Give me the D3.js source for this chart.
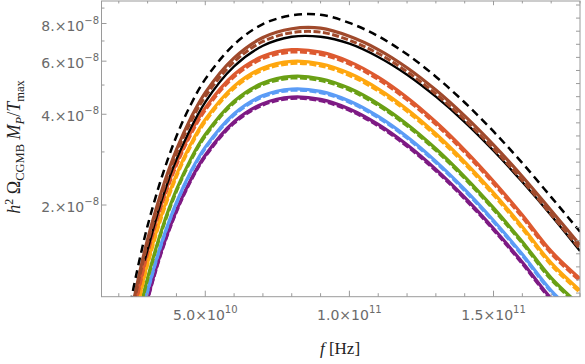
<!DOCTYPE html>
<html><head><meta charset="utf-8">
<script src="https://cdn.jsdelivr.net/npm/d3@7"></script>
<style>body{margin:0;background:#fff}</style>
</head><body><svg id="c" width="585" height="364"></svg>
<script>
// frequencies (Hz)
const freq = [2.4e10, 2.6e10, 2.8e10, 3.0e10, 3.5e10, 4.0e10, 4.5e10, 5.0e10, 6.0e10, 7.0e10, 8.0e10, 9.0e10, 1.0e11, 1.1e11, 1.2e11, 1.3e11, 1.4e11, 1.5e11, 1.6e11, 1.7e11, 1.8e11];
const freqBlack = [2.9e10, 3.0e10, 3.5e10, 4.0e10, 5.0e10, 6.0e10, 7.0e10, 8.0e10, 9.0e10, 1.0e11, 1.1e11, 1.2e11, 1.3e11, 1.4e11, 1.5e11, 1.6e11, 1.7e11, 1.8e11];
// values in units of 1e-8
const blackDashed  = [0.942, 1.167, 1.425, 1.709, 2.491, 3.381, 4.311, 5.230, 6.816, 7.962, 8.513, 8.551, 8.037, 7.263, 6.321, 5.330, 4.375, 3.507, 2.755, 2.125, 1.632];
const brownSolid   = [0.850, 1.053, 1.286, 1.542, 2.249, 3.052, 3.891, 4.721, 6.153, 7.187, 7.685, 7.718, 7.255, 6.556, 5.706, 4.811, 3.949, 3.166, 2.487, 1.918, 1.473];
const brownDashed  = [0.825, 1.022, 1.248, 1.497, 2.183, 2.962, 3.776, 4.581, 5.971, 6.975, 7.458, 7.490, 7.041, 6.362, 5.538, 4.669, 3.832, 3.072, 2.413, 1.861, 1.430];
const blackSolid   = [1.310, 1.423, 2.090, 2.832, 4.387, 5.769, 6.747, 7.230, 7.230, 6.857, 6.196, 5.409, 4.573, 3.768, 3.028, 2.383, 1.846, 1.407];
const redSolid     = [0.774, 0.964, 1.176, 1.406, 2.048, 2.757, 3.489, 4.200, 5.422, 6.229, 6.550, 6.431, 5.979, 5.312, 4.546, 3.769, 3.042, 2.398, 1.853, 1.406, 1.140];
const redDashed    = [0.760, 0.947, 1.154, 1.381, 2.011, 2.706, 3.425, 4.124, 5.323, 6.115, 6.430, 6.314, 5.869, 5.215, 4.463, 3.700, 2.986, 2.354, 1.819, 1.380, 1.119];
const orangeSolid  = [0.708, 0.882, 1.075, 1.286, 1.873, 2.521, 3.191, 3.842, 4.960, 5.697, 5.990, 5.882, 5.468, 4.859, 4.158, 3.447, 2.782, 2.194, 1.695, 1.286, 1.043];
const orangeDashed = [0.696, 0.867, 1.057, 1.265, 1.842, 2.479, 3.138, 3.778, 4.877, 5.602, 5.891, 5.784, 5.377, 4.778, 4.089, 3.390, 2.736, 2.157, 1.667, 1.264, 1.025];
const greenSolid   = [0.631, 0.786, 0.959, 1.147, 1.670, 2.248, 2.845, 3.426, 4.422, 5.080, 5.341, 5.245, 4.876, 4.332, 3.708, 3.074, 2.481, 1.956, 1.511, 1.147, 0.930];
const greenDashed  = [0.623, 0.776, 0.946, 1.132, 1.648, 2.219, 2.808, 3.381, 4.364, 5.013, 5.272, 5.176, 4.812, 4.276, 3.659, 3.033, 2.448, 1.930, 1.492, 1.131, 0.918];
const blueSolid    = [0.573, 0.714, 0.871, 1.042, 1.517, 2.042, 2.585, 3.112, 4.017, 4.615, 4.852, 4.765, 4.429, 3.936, 3.368, 2.792, 2.254, 1.777, 1.373, 1.041, 0.845];
const blueDashed   = [0.568, 0.707, 0.862, 1.031, 1.502, 2.021, 2.558, 3.080, 3.976, 4.567, 4.802, 4.716, 4.384, 3.895, 3.333, 2.763, 2.230, 1.759, 1.359, 1.031, 0.836];
const purpleSolid  = [0.539, 0.672, 0.819, 0.980, 1.427, 1.920, 2.430, 2.926, 3.778, 4.339, 4.563, 4.480, 4.165, 3.701, 3.167, 2.625, 2.119, 1.671, 1.291, 0.979, 0.794];
const purpleDashed = [0.533, 0.664, 0.810, 0.969, 1.411, 1.899, 2.404, 2.894, 3.736, 4.292, 4.513, 4.431, 4.120, 3.660, 3.132, 2.597, 2.096, 1.653, 1.277, 0.969, 0.786];

const xMajorTicks = [5e10, 1e11, 1.5e11];
const xMajorLabels = [["5.0", "10"], ["1.0", "11"], ["1.5", "11"]];
const yMajorTicks = [2, 4, 6, 8];
const yMajorLabels = ["2.", "4.", "6.", "8."];
const yMinorTicks = [3, 5, 7, 9];

const svg = d3.select("#c");
const L = 101.5, R = 580, T = 1, B = 296.7;
const x = d3.scaleLinear().domain([1.4e10, 1.8e11]).range([L, R]);
const y = d3.scaleLog().domain([0.993, 9.5]).range([B, T]);

svg.append("defs").append("clipPath").attr("id", "clip")
  .append("rect").attr("x", L).attr("y", T).attr("width", R - L).attr("height", B - T);

const series = [
  {f: freq, v: purpleDashed, c: "#7e1a84", w: 3, d: "7,2.5"},
  {f: freq, v: purpleSolid, c: "#7e1a84", w: 3.2, d: null},
  {f: freq, v: blueDashed, c: "#5b9cf6", w: 3, d: "7,2.5"},
  {f: freq, v: blueSolid, c: "#5b9cf6", w: 3.2, d: null},
  {f: freq, v: greenDashed, c: "#6aa015", w: 3, d: "7,2.5"},
  {f: freq, v: greenSolid, c: "#6aa015", w: 3.2, d: null},
  {f: freq, v: orangeDashed, c: "#fea70f", w: 3, d: "7,2.5"},
  {f: freq, v: orangeSolid, c: "#fea70f", w: 3.2, d: null},
  {f: freq, v: redDashed, c: "#dd5a30", w: 3, d: "7,2.5"},
  {f: freq, v: redSolid, c: "#dd5a30", w: 3.2, d: null},
  {f: freqBlack, v: blackSolid, c: "#000000", w: 2.3, d: null},
  {f: freq, v: brownDashed, c: "#a04a2c", w: 3, d: "7,2.5"},
  {f: freq, v: brownSolid, c: "#a04a2c", w: 3.2, d: null},
  {f: freq, v: blackDashed, c: "#000000", w: 2.5, d: "8,5"}
];

const line = d3.line().curve(d3.curveCatmullRom.alpha(0.5));
const g = svg.append("g").attr("clip-path", "url(#clip)");
series.forEach(s => {
  g.append("path")
    .attr("d", line(s.f.map((f, i) => [x(f), y(s.v[i])])))
    .attr("fill", "none").attr("stroke", s.c).attr("stroke-width", s.w)
    .attr("stroke-dasharray", s.d);
});

// frame
const frameCol = "#9a9a9a";
svg.append("rect").attr("x", L).attr("y", T).attr("width", R - L).attr("height", B - T)
  .attr("fill", "none").attr("stroke", frameCol).attr("stroke-width", 1);

// x ticks
const xMinor = d3.range(2e10, 1.81e11, 1e10);
xMinor.forEach(f => {
  const major = xMajorTicks.some(m => Math.abs(m - f) < 1e8);
  const len = major ? 6 : 3.5;
  svg.append("line").attr("x1", x(f)).attr("x2", x(f)).attr("y1", B).attr("y2", B - len).attr("stroke", frameCol);
  svg.append("line").attr("x1", x(f)).attr("x2", x(f)).attr("y1", T).attr("y2", T + len * 0.7).attr("stroke", frameCol);
});
// y ticks left
yMajorTicks.forEach(v => svg.append("line").attr("x1", L).attr("x2", L + 5).attr("y1", y(v)).attr("y2", y(v)).attr("stroke", frameCol));
yMinorTicks.forEach(v => svg.append("line").attr("x1", L).attr("x2", L + 3).attr("y1", y(v)).attr("y2", y(v)).attr("stroke", frameCol));
// right ticks: natural-log spaced
d3.range(-184, -161).forEach(k => {
  const v = Math.exp(k / 10) * 1e8;
  if (v < 0.993 || v > 9.5) return;
  svg.append("line").attr("x1", R).attr("x2", R - 4).attr("y1", y(v)).attr("y2", y(v)).attr("stroke", frameCol);
});

const labCol = "#6a6a6a";
const sans = "DejaVu Sans, sans-serif";
yMajorTicks.forEach((v, i) => {
  const t = svg.append("text").attr("x", 99).attr("y", y(v) + 7).attr("text-anchor", "end")
    .style("font-family", sans).style("font-size", "14px").attr("fill", labCol);
  t.append("tspan").text(yMajorLabels[i] + "\u00d710");
  t.append("tspan").attr("dy", -7).style("font-size", "10px").text("\u22128");
});
xMajorTicks.forEach((f, i) => {
  const t = svg.append("text").attr("x", x(f)).attr("y", 319.5).attr("text-anchor", "middle")
    .style("font-family", sans).style("font-size", "14px").attr("fill", labCol);
  t.append("tspan").text(xMajorLabels[i][0] + "\u00d710");
  t.append("tspan").attr("dy", -7).style("font-size", "10px").text(xMajorLabels[i][1]);
});

// axis titles
const serif = "Liberation Serif, serif";
const xt = svg.append("text").attr("x", 340).attr("y", 354).attr("text-anchor", "middle")
  .style("font-family", serif).style("font-size", "17px").attr("fill", "#222");
xt.append("tspan").style("font-style", "italic").text("f");
xt.append("tspan").text("  [Hz]");

const yt = svg.append("text").attr("transform", "translate(20,147) rotate(-90)").attr("text-anchor", "middle")
  .style("font-family", serif).style("font-size", "18px").attr("fill", "#222");
yt.append("tspan").style("font-style", "italic").text("h");
yt.append("tspan").attr("dy", -7).style("font-size", "12px").text("2");
yt.append("tspan").attr("dy", 7).text(" \u03a9");
yt.append("tspan").attr("dy", 4).style("font-size", "12.5px").text("CGMB");
yt.append("tspan").attr("dy", -4).style("font-style", "italic").text(" M");
yt.append("tspan").attr("dy", 4).style("font-size", "12.5px").style("font-style", "italic").text("P");
yt.append("tspan").attr("dy", -4).text("/");
yt.append("tspan").style("font-style", "italic").text("T");
yt.append("tspan").attr("dy", 4).style("font-size", "12.5px").text("max");
</script></body></html>
